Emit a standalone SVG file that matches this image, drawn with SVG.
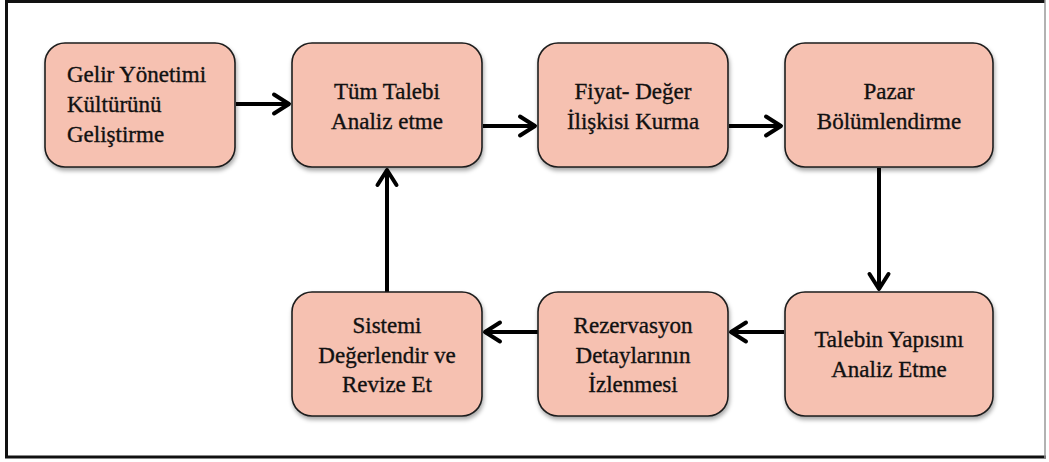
<svg xmlns="http://www.w3.org/2000/svg" width="1049" height="462" viewBox="0 0 1049 462">
  <style>
    .box { fill: #F6C1B1; stroke: #1e1e1e; stroke-width: 1.6; filter: url(#shadow); }
    .lbl { font-family: "Liberation Serif", "Times New Roman", serif; font-size: 23px; fill: #111; stroke: #111; stroke-width: 0.35; text-anchor: middle; }
    .left { text-anchor: start; }
    .conn { stroke: #000; stroke-width: 4; fill: none; marker-end: url(#chev); }
  </style>
  <defs>
    <filter id="shadow" x="-10%" y="-10%" width="125%" height="130%">
      <feDropShadow dx="1" dy="3" stdDeviation="2" flood-color="#000" flood-opacity="0.35"/>
    </filter>
    <marker id="chev" markerUnits="userSpaceOnUse" viewBox="-22 -14 26 28" markerWidth="26" markerHeight="28" refX="0" refY="0" orient="auto" overflow="visible">
      <path d="M-15,-9.5 L0,0 L-15,9.5" fill="none" stroke="#000" stroke-width="4" stroke-linecap="round" stroke-linejoin="round"/>
    </marker>
  </defs>

  <!-- outer frame -->
  <g id="frame">
    <rect x="0" y="0" width="1049" height="462" fill="#fff"/>
    <line x1="6.5" y1="1.5" x2="1045" y2="1.5" stroke="#111" stroke-width="3"/>
    <line x1="6.5" y1="0" x2="6.5" y2="458" stroke="#111" stroke-width="3"/>
    <line x1="5" y1="457" x2="1046" y2="457" stroke="#111" stroke-width="3"/>
    <line x1="1045" y1="0" x2="1045" y2="458" stroke="#999" stroke-width="1.5"/>
  </g>

  <!-- connectors -->
  <g id="connectors">
    <line class="conn" x1="236" y1="104" x2="289" y2="104"/>
    <line class="conn" x1="483" y1="126" x2="535" y2="126"/>
    <line class="conn" x1="729" y1="126" x2="781" y2="126"/>
    <line class="conn" x1="879" y1="168" x2="879" y2="289"/>
    <line class="conn" x1="784" y1="332" x2="731" y2="332"/>
    <line class="conn" x1="538" y1="332" x2="485" y2="332"/>
    <line class="conn" x1="387" y1="292" x2="387" y2="170"/>
  </g>

  <g id="n-gelir">
    <rect class="box" x="45" y="43" width="190" height="124" rx="20"/>
    <text class="lbl left" x="67" y="82">Gelir Yönetimi</text>
    <text class="lbl left" x="67" y="112">Kültürünü</text>
    <text class="lbl left" x="67" y="142">Geliştirme</text>
  </g>

  <g id="n-tum-talebi">
    <rect class="box" x="292" y="43" width="190" height="124" rx="20"/>
    <text class="lbl" x="387" y="99">Tüm Talebi</text>
    <text class="lbl" x="387" y="129">Analiz etme</text>
  </g>

  <g id="n-fiyat-deger">
    <rect class="box" x="538" y="43" width="190" height="124" rx="20"/>
    <text class="lbl" x="633" y="99">Fiyat- Değer</text>
    <text class="lbl" x="633" y="129">İlişkisi Kurma</text>
  </g>

  <g id="n-pazar">
    <rect class="box" x="785" y="43" width="208" height="124" rx="20"/>
    <text class="lbl" x="889" y="99">Pazar</text>
    <text class="lbl" x="889" y="129">Bölümlendirme</text>
  </g>

  <g id="n-talebin-yapisi">
    <rect class="box" x="785" y="292" width="208" height="124" rx="20"/>
    <text class="lbl" x="889" y="347">Talebin Yapısını</text>
    <text class="lbl" x="889" y="377">Analiz Etme</text>
  </g>

  <g id="n-rezervasyon">
    <rect class="box" x="538" y="292" width="190" height="124" rx="20"/>
    <text class="lbl" x="633" y="333">Rezervasyon</text>
    <text class="lbl" x="633" y="363">Detaylarının</text>
    <text class="lbl" x="633" y="392">İzlenmesi</text>
  </g>

  <g id="n-sistemi">
    <rect class="box" x="292" y="292" width="190" height="124" rx="20"/>
    <text class="lbl" x="387" y="333">Sistemi</text>
    <text class="lbl" x="387" y="363">Değerlendir ve</text>
    <text class="lbl" x="387" y="392">Revize Et</text>
  </g>
</svg>
